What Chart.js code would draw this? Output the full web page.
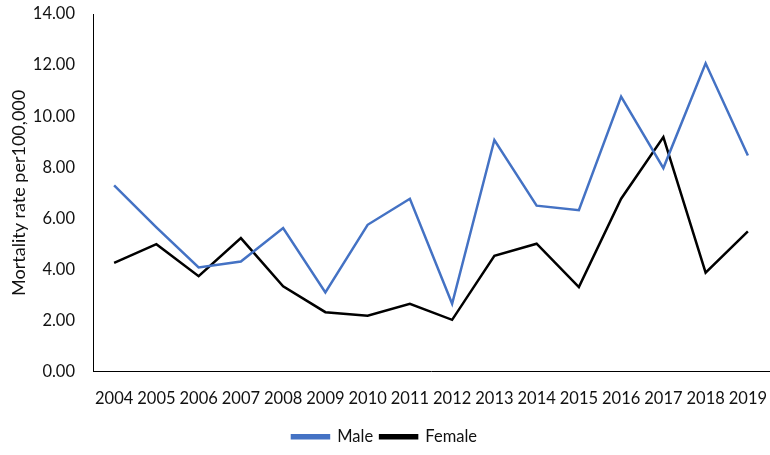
<!DOCTYPE html>
<html>
<head>
<meta charset="utf-8">
<script src="https://cdn.jsdelivr.net/npm/chart.js@4.4.1/dist/chart.umd.min.js"></script>
<style>
  html, body { margin: 0; padding: 0; background: #fff; }
  #wrap { width: 770px; height: 455px; }
</style>
</head>
<body>
<div id="wrap"><canvas id="chart"></canvas></div>
<script>
// valores
const years = ['2004', '2005', '2006', '2007', '2008', '2009', '2010', '2011',
               '2012', '2013', '2014', '2015', '2016', '2017', '2018', '2019'];
const male = [7.29, 5.65, 4.08, 4.31, 5.62, 3.10, 5.75, 6.77,
              2.66, 9.07, 6.50, 6.32, 10.77, 7.97, 12.07, 8.46];
const female = [4.26, 4.99, 3.74, 5.23, 3.34, 2.33, 2.19, 2.66,
                2.03, 4.54, 5.01, 3.31, 6.77, 9.18, 3.88, 5.49];
const yMin = 0, yMax = 14, yStep = 2;

Chart.defaults.font.family = "Lato, 'Noto Sans', sans-serif";
Chart.defaults.color = '#111';

const sinPadding = s => {
    s.paddingTop = 0; s.paddingBottom = 0;
    s.paddingLeft = 0; s.paddingRight = 0;
};

const ctx = document.getElementById('chart').getContext('2d');
new Chart(ctx, {
    type: 'line',
    data: {
        labels: years,
        datasets: [{
            label: 'Male',
            data: male,
            borderColor: '#4472C4',
            backgroundColor: '#4472C4',
            borderWidth: 2.5,
            pointRadius: 0,
            tension: 0
        }, {
            label: 'Female',
            data: female,
            borderColor: '#000000',
            backgroundColor: '#000000',
            borderWidth: 2.5,
            pointRadius: 0,
            tension: 0
        }]
    },
    options: {
        responsive: true,
        maintainAspectRatio: false,
        animation: false,
        layout: { padding: { top: 14, right: 1, left: 0, bottom: 0 } },
        scales: {
            x: {
                offset: true,
                grid: { display: false },
                border: { color: '#000', width: 1 },
                ticks: { font: { size: 16.5 }, padding: 9, maxRotation: 0, autoSkip: false },
                afterFit: s => { sinPadding(s); s.height += 4; }
            },
            y: {
                min: yMin,
                max: yMax,
                grid: { display: false },
                border: { color: '#000', width: 1 },
                ticks: {
                    stepSize: yStep,
                    font: { size: 16.5 },
                    padding: 10,
                    callback: v => v.toFixed(2)
                },
                title: {
                    display: true,
                    text: 'Mortality rate per100,000',
                    font: { size: 18 },
                    padding: { top: 8, bottom: 0 }
                },
                afterFit: s => { sinPadding(s); s.width = 93; }
            }
        },
        plugins: {
            legend: {
                position: 'bottom',
                labels: {
                    boxWidth: 37,
                    boxHeight: 3,
                    font: { size: 16.5 },
                    padding: 7
                }
            },
            tooltip: { enabled: false }
        }
    }
});
</script>
</body>
</html>
